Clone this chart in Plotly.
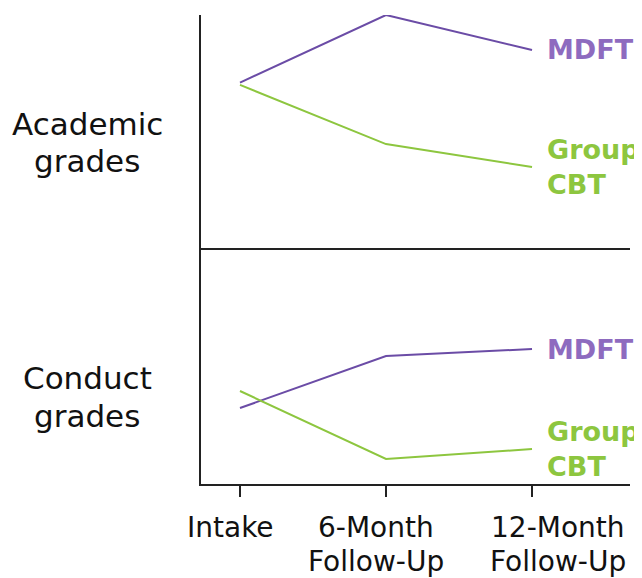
import plotly.graph_objects as go

categories = ["Intake", "6-Month", "12-Month"]
tick_line1 = ["Intake", "6-Month", "12-Month"]
tick_line2 = ["", "Follow-Up", "Follow-Up"]

academic_mdft = [71, 100, 85]
academic_cbt = [70, 44.6, 34.8]
conduct_mdft = [32.2, 54.2, 57.2]
conduct_cbt = [39.4, 10.6, 14.8]

panel_titles = [["Academic", "grades"], ["Conduct", "grades"]]
series_names = ["MDFT", "Group<br>CBT"]

LINE_PURPLE = "#6b4ca6"
LINE_GREEN = "#8dc63f"
TEXT_PURPLE = "#8e6bbf"
TEXT_GREEN = "#8dc63f"
AXIS = "#222222"
FONT = "DejaVu Sans"

xidx = list(range(len(categories)))

fig = go.Figure()

# top panel (academic)
fig.add_trace(go.Scatter(x=xidx, y=academic_mdft, mode="lines",
                         line=dict(color=LINE_PURPLE, width=2), xaxis="x2", yaxis="y2"))
fig.add_trace(go.Scatter(x=xidx, y=academic_cbt, mode="lines",
                         line=dict(color=LINE_GREEN, width=2), xaxis="x2", yaxis="y2"))
# bottom panel (conduct)
fig.add_trace(go.Scatter(x=xidx, y=conduct_mdft, mode="lines",
                         line=dict(color=LINE_PURPLE, width=2), xaxis="x", yaxis="y"))
fig.add_trace(go.Scatter(x=xidx, y=conduct_cbt, mode="lines",
                         line=dict(color=LINE_GREEN, width=2), xaxis="x", yaxis="y"))

xrange = [-0.267, 2.671]
split = 236 / 469

annotations = []
# panel titles (unrotated, left of the axis)
title_shifts = [[360, 323], [106, 68]]
for lines, shifts in zip(panel_titles, title_shifts):
    for txt, ys in zip(lines, shifts):
        annotations.append(dict(text=txt, xref="paper", yref="paper",
                                x=-0.2657, y=0, yshift=ys, xanchor="center", yanchor="middle",
                                showarrow=False, font=dict(family=FONT, size=31, color="#111111")))

# category labels under the ticks
label_xshift = [-9, -10, 26]
for i, (l1, l2) in enumerate(zip(tick_line1, tick_line2)):
    for txt, ys in [(l1, -43), (l2, -77)]:
        if txt:
            annotations.append(dict(text=txt, xref="x", yref="paper", x=xidx[i], y=0,
                                    xshift=label_xshift[i], yshift=ys,
                                    xanchor="center", yanchor="middle", showarrow=False,
                                    font=dict(family=FONT, size=28, color="#111111")))

# series end labels
for yref, xref, vals, name, col in [
    ("y2", "x2", academic_mdft, series_names[0], TEXT_PURPLE),
    ("y2", "x2", academic_cbt, series_names[1], TEXT_GREEN),
    ("y", "x", conduct_mdft, series_names[0], TEXT_PURPLE),
    ("y", "x", conduct_cbt, series_names[1], TEXT_GREEN),
]:
    annotations.append(dict(text="<b>" + name.replace("<br>", "</b><br><b>") + "</b>",
                            xref=xref, yref=yref, x=xidx[-1], y=vals[-1],
                            xanchor="left", yanchor="middle", align="left",
                            xshift=13, showarrow=False,
                            font=dict(family=FONT, size=27, color=col)))

fig.update_layout(
    width=634, height=570,
    margin=dict(l=193, r=12, t=7, b=94),
    paper_bgcolor="white", plot_bgcolor="white",
    showlegend=False,
    xaxis=dict(domain=[0, 1], anchor="y", range=xrange, tickmode="array",
               tickvals=xidx, ticktext=["", "", ""], ticks="outside", ticklen=11,
               tickwidth=2, tickcolor=AXIS, showline=True, linecolor=AXIS,
               linewidth=2, showgrid=False, zeroline=False),
    yaxis=dict(domain=[0, split], anchor="x", range=[0, 100], showline=True,
               linecolor=AXIS, linewidth=2, showticklabels=False, ticks="",
               showgrid=False, zeroline=False),
    xaxis2=dict(domain=[0, 1], anchor="y2", range=xrange, showline=True,
                linecolor=AXIS, linewidth=2, showticklabels=False, ticks="",
                showgrid=False, zeroline=False),
    yaxis2=dict(domain=[split, 1], anchor="x2", range=[0, 100], showline=True,
                linecolor=AXIS, linewidth=2, showticklabels=False, ticks="",
                showgrid=False, zeroline=False),
    annotations=annotations,
)

fig.write_html("out.html")
